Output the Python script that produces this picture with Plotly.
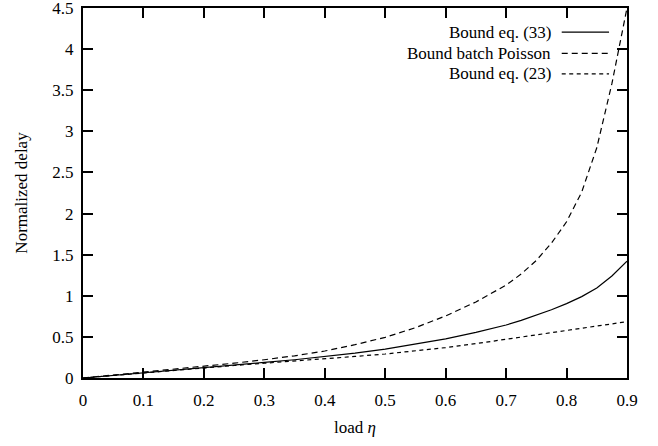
import plotly.graph_objects as go

load = [0, 0.05, 0.1, 0.15, 0.2, 0.25, 0.3, 0.35, 0.4, 0.45, 0.5, 0.55,
        0.6, 0.65, 0.7, 0.725, 0.75, 0.775, 0.8, 0.825, 0.85, 0.875, 0.9]
bound_33 = [0, 0.033, 0.067, 0.10, 0.13, 0.16, 0.19, 0.222, 0.258, 0.302, 0.352, 0.41,
            0.476, 0.555, 0.645, 0.70, 0.765, 0.83, 0.905, 0.99, 1.095, 1.24, 1.42]
bound_poisson = [0, 0.035, 0.07, 0.105, 0.14, 0.18, 0.222, 0.27, 0.328, 0.405, 0.495, 0.612,
                 0.755, 0.925, 1.13, 1.265, 1.43, 1.64, 1.90, 2.26, 2.80, 3.58, 4.50]
bound_23 = [0, 0.032, 0.064, 0.095, 0.125, 0.152, 0.18, 0.205, 0.232, 0.262, 0.292, 0.33,
            0.37, 0.418, 0.47, 0.497, 0.523, 0.55, 0.575, 0.60, 0.628, 0.656, 0.685]

series = [
    ("Bound eq. (33)", bound_33, "solid"),
    ("Bound batch Poisson", bound_poisson, "6px,4px"),
    ("Bound eq. (23)", bound_23, "4px,3.5px"),
]

FONT = "'Liberation Serif', 'Times New Roman', 'DejaVu Serif', Times, serif"
fig = go.Figure()
for name, vals, dash in series:
    fig.add_trace(go.Scatter(x=load, y=vals, mode="lines", name=name,
                             line=dict(color="black", width=1.2, dash=dash),
                             showlegend=False, hoverinfo="skip"))

# gnuplot-style legend: right-aligned text followed by line sample
leg_y = [0.935, 0.8775, 0.822]
for (name, vals, dash), yy in zip(series, leg_y):
    fig.add_annotation(xref="paper", yref="paper", x=0.864, y=yy, text=name,
                       showarrow=False, xanchor="right", yanchor="middle",
                       font=dict(family=FONT, size=17, color="black"))
    fig.add_shape(type="line", xref="paper", yref="paper", x0=0.880, x1=0.967, y0=yy, y1=yy,
                  line=dict(color="black", width=1.2, dash=dash))

axis_common = dict(showline=True, linecolor="black", linewidth=2, mirror="ticks",
                   ticks="inside", ticklen=10, tickwidth=1.5, tickcolor="black",
                   showgrid=False, zeroline=False, automargin=False, ticklabeloverflow="allow",
                   tickfont=dict(family=FONT, size=17, color="black"))
fig.update_xaxes(range=[0, 0.9], dtick=0.1, tick0=0,
                 title=dict(text="load <i>η</i>", font=dict(family=FONT, size=17, color="black"), standoff=12),
                 ticklabelstandoff=6, **axis_common)
fig.update_yaxes(range=[0, 4.5], dtick=0.5, tick0=0,
                 title=dict(text="Normalized delay", font=dict(family=FONT, size=17, color="black"), standoff=20),
                 ticklabelstandoff=4, **axis_common)
fig.update_layout(width=658, height=446, margin=dict(l=83, r=31, t=8, b=68, autoexpand=False),
                  paper_bgcolor="white", plot_bgcolor="white",
                  font=dict(family=FONT, size=17, color="black"))
fig.write_html("out.html", config={"displayModeBar": False},
               post_script="document.body.style.margin='0';")
